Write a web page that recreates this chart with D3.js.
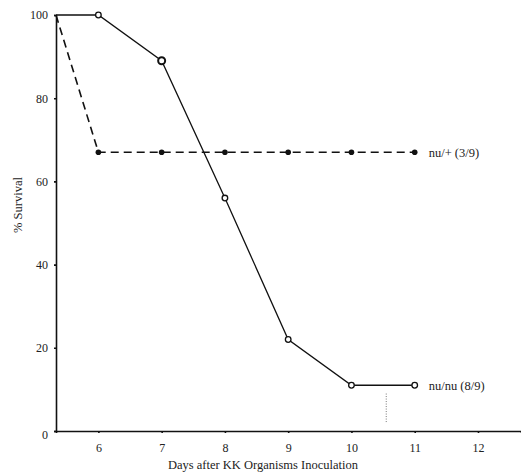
<!DOCTYPE html>
<html>
<head>
<meta charset="utf-8">
<script src="https://cdn.jsdelivr.net/npm/d3@7"></script>
<style>
  body { margin: 0; background: #fff; }
  text { font-family: "Liberation Serif", "DejaVu Serif", serif; fill: #222; }
</style>
</head>
<body>
<div id="chart"></div>
<script>
// day 5.33 is where the curves start, on the y axis
const daysNuNu = [5.33, 6, 7, 8, 9, 10, 11];
const survivalNuNu = [100, 100, 89, 56, 22, 11, 11];
const daysNuPlus = [5.33, 6, 7, 8, 9, 10, 11];
const survivalNuPlus = [100, 67, 67, 67, 67, 67, 67];
const xTicks = [6, 7, 8, 9, 10, 11, 12];
const yTicks = [0, 20, 40, 60, 80, 100];
const seriesLabels = ['nu/+  (3/9)', 'nu/nu  (8/9)'];

const width = 521, height = 475;
const svg = d3.select('#chart').append('svg')
    .attr('width', width)
    .attr('height', height);

const x = d3.scaleLinear().domain([5.33, 12.68]).range([56, 521]);
const y = d3.scaleLinear().domain([0, 100]).range([431, 15]);

// axes
const xAxis = svg.append('g')
    .attr('transform', `translate(0,${y(0)})`)
    .call(d3.axisBottom(x).tickValues(xTicks).tickSize(2).tickPadding(10).tickFormat(d3.format('d')));
const yAxis = svg.append('g')
    .attr('transform', `translate(${x(5.33)},0)`)
    .call(d3.axisLeft(y).tickValues(yTicks).tickSize(2).tickPadding(6));
[xAxis, yAxis].forEach(a => {
    a.select('.domain').attr('stroke', '#111').attr('stroke-width', 1.6);
    a.selectAll('.tick line').attr('stroke', '#111').attr('stroke-width', 1.6);
    a.selectAll('.tick text')
        .style('font-family', '"Liberation Serif", serif')
        .style('font-size', '12px')
        .attr('fill', '#222');
});
yAxis.select('.tick:first-of-type text').attr('dy', '0.6em');

// axis titles
svg.append('text')
    .attr('x', 263)
    .attr('y', 469)
    .attr('text-anchor', 'middle')
    .style('font-size', '12.5px')
    .text('Days after KK Organisms Inoculation');
svg.append('text')
    .attr('transform', 'translate(22,205) rotate(-90)')
    .attr('text-anchor', 'middle')
    .style('font-size', '12.5px')
    .text('% Survival');

const line = d3.line().x(d => x(d[0])).y(d => y(d[1]));

// nu/+ dashed series
const plusData = d3.zip(daysNuPlus, survivalNuPlus);
svg.append('path')
    .datum(plusData)
    .attr('fill', 'none')
    .attr('stroke', '#111')
    .attr('stroke-width', 1.6)
    .attr('stroke-dasharray', '8,5')
    .attr('d', line);
svg.append('g').selectAll('circle')
    .data(plusData.slice(1))
    .join('circle')
    .attr('cx', d => x(d[0]))
    .attr('cy', d => y(d[1]))
    .attr('r', 2.8)
    .attr('fill', '#111');

// nu/nu solid series
const nuData = d3.zip(daysNuNu, survivalNuNu);
svg.append('path')
    .datum(nuData)
    .attr('fill', 'none')
    .attr('stroke', '#111')
    .attr('stroke-width', 1.3)
    .attr('d', line);
svg.append('g').selectAll('circle')
    .data(nuData.slice(1))
    .join('circle')
    .attr('cx', d => x(d[0]))
    .attr('cy', d => y(d[1]))
    .attr('r', (d, i) => i === 1 ? 3.5 : 2.8)
    .attr('fill', '#fff')
    .attr('stroke', '#111')
    .attr('stroke-width', (d, i) => i === 1 ? 2 : 1.3);

// faint dotted mark below the nu/nu tail
svg.append('line')
    .attr('x1', x(10.55)).attr('x2', x(10.55))
    .attr('y1', y(9)).attr('y2', y(2))
    .attr('stroke', '#777')
    .attr('stroke-width', 1)
    .attr('stroke-dasharray', '1,1.5');

// series labels
svg.append('text')
    .attr('x', x(11) + 14)
    .attr('y', y(67) + 5)
    .style('font-size', '12.5px')
    .text(seriesLabels[0]);
svg.append('text')
    .attr('x', x(11) + 14)
    .attr('y', y(11) + 5)
    .style('font-size', '12.5px')
    .text(seriesLabels[1]);
</script>
</body>
</html>
